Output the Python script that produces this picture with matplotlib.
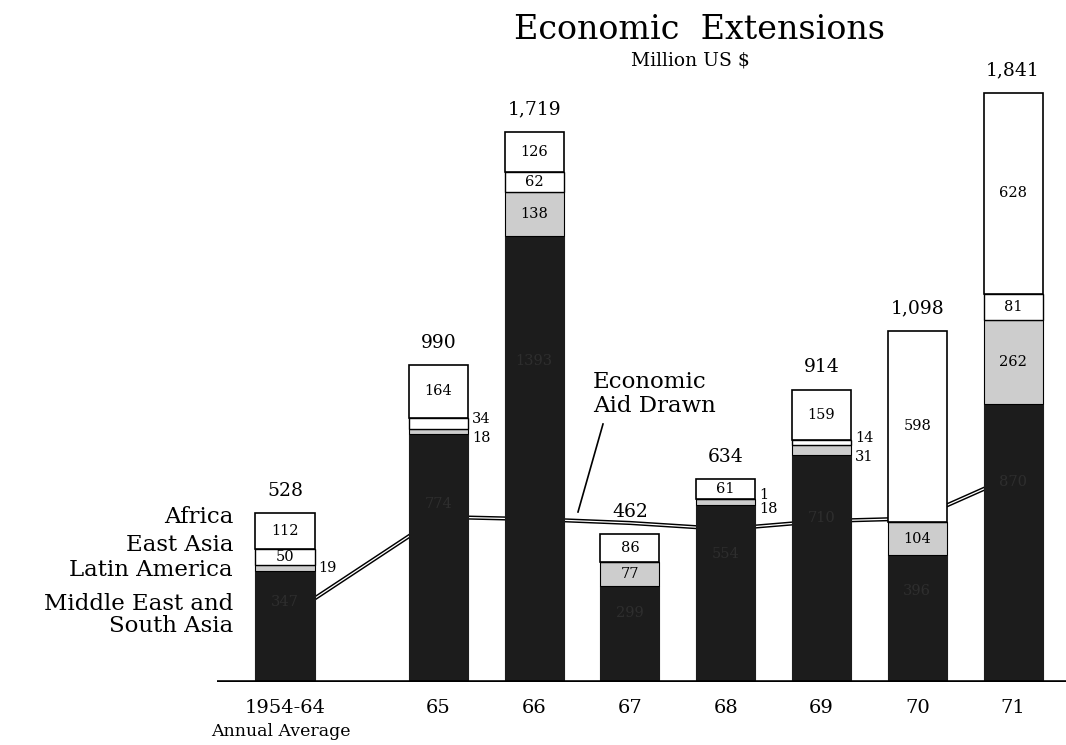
import matplotlib
matplotlib.use("Agg")
import matplotlib.pyplot as plt
import numpy as np

plt.rcParams['font.family'] = ['DejaVu Serif']

# ---- data ----
years = ["1954-64", "65", "66", "67", "68", "69", "70", "71"]
totals = [528, 990, 1719, 462, 634, 914, 1098, 1841]
mesa = [347, 774, 1393, 299, 554, 710, 396, 870]      # Middle East and South Asia
latin = [19, 18, 138, 77, 18, 31, 104, 262]           # Latin America
east_asia = [50, 34, 62, 0, 1, 14, 0, 81]             # East Asia
africa = [112, 164, 126, 86, 61, 159, 598, 628]       # Africa
aid_drawn = [200, 516, 509, 497, 478, 503, 511, 644]  # Economic Aid Drawn
region_names = ["Africa", "East Asia", "Latin America", "Middle East and\nSouth Asia"]

# ---- layout ----
W, H = 1066, 745
fig = plt.figure(figsize=(W / 100, H / 100), dpi=100)
base_px = 682
ax = fig.add_axes([217 / W, (H - base_px) / H, (W - 217) / W, 620 / H])
px_per_unit = 0.32
ax.set_ylim(0, 620 / px_per_unit)
spacing = 95.8
ax.set_xlim((217 - 285) / spacing, (W - 285) / spacing)
x = np.array([0, 1.6, 2.6, 3.6, 4.6, 5.6, 6.6, 7.6])
bw = 0.616

dark = '#1c1c1c'
gray = '#cdcdcd'

# Aid drawn line (drawn beneath the bars, double-line look)
ax.plot(x, aid_drawn, color='black', lw=3.0, zorder=0.4, solid_joinstyle='round')
ax.plot(x, aid_drawn, color='white', lw=0.9, zorder=0.5, solid_joinstyle='round')

mesa_a = np.array(mesa)
lat_a = np.array(latin)
ea_a = np.array(east_asia)
af_a = np.array(africa)

ax.bar(x, mesa_a, bw, color=dark, edgecolor=dark, lw=0.8, zorder=1)
ax.bar(x, lat_a, bw, bottom=mesa_a, color=gray, edgecolor='black', lw=0.8, zorder=2)
ax.bar(x, ea_a, bw, bottom=mesa_a + lat_a, color='white', edgecolor='black', lw=1.0, zorder=2)
ax.bar(x, af_a, bw, bottom=mesa_a + lat_a + ea_a, color='white', edgecolor='black', lw=1.2, zorder=2)

# baseline
ax.axhline(0, color='black', lw=2.6, zorder=3)

# total labels
for xi, t in zip(x, totals):
    ax.annotate(f"{t:,}", (xi, t), xytext=(0, 16), textcoords='offset points',
                ha='center', va='center', fontsize=13.5, zorder=4)

# segment labels
thr = 40
for i, xi in enumerate(x):
    b_lat = mesa[i]
    b_ea = mesa[i] + latin[i]
    b_af = b_ea + east_asia[i]
    # faint MESA label in dark segment
    ax.text(xi, mesa[i] * 0.72, f"{mesa[i]}", ha='center', va='center',
            fontsize=10.5, color='#2e2e2e', zorder=4)
    segs = [(latin[i], b_lat), (east_asia[i], b_ea), (africa[i], b_af)]
    outside = [(v, b) for v, b in segs if 0 < v < thr]
    for v, b in segs:
        if v >= thr:
            ax.text(xi, b + v / 2, str(v), ha='center', va='center', fontsize=10.5, zorder=4)
    if len(outside) == 1:
        v, b = outside[0]
        ax.annotate(str(v), (xi + bw / 2, b + v / 2), xytext=(3, 0), textcoords='offset points',
                    ha='left', va='center', fontsize=10.5, zorder=4)
    elif len(outside) == 2:
        offs = [-5, 3]
        for (v, b), o in zip(outside, offs):
            ax.annotate(str(v), (xi + bw / 2, b + v / 2), xytext=(3, o), textcoords='offset points',
                        ha='left', va='center', fontsize=10.5, zorder=4)

# x tick labels
ax.set_xticks(x)
ax.set_xticklabels(years, fontsize=14)
ax.tick_params(axis='x', length=0, pad=12)
ax.set_yticks([])
for s in ax.spines.values():
    s.set_visible(False)
fig.text(281 / W, 1 - 732 / H, "Annual Average", ha='center', va='center', fontsize=12.5)

# legend-style region labels
leg_y = [517, 545, 570, 615]
for name, yy in zip(region_names, leg_y):
    fig.text(233 / W, 1 - yy / H, name, ha='right', va='center', fontsize=16.5,
             linespacing=1.0)

# annotation for aid line
ax.text((593 - 285) / spacing, (base_px - 394) / px_per_unit,
        "Economic\nAid Drawn", ha='left', va='center', fontsize=16.5, linespacing=1.15)
ax.plot([(603 - 285) / spacing, (578 - 285) / spacing],
        [(base_px - 424) / px_per_unit, (base_px - 512) / px_per_unit],
        color='black', lw=1.2, zorder=4)

# titles
fig.text(700 / W, 1 - 30 / H, "Economic  Extensions", ha='center', va='center', fontsize=24)
fig.text(690 / W, 1 - 60 / H, "Million US $", ha='center', va='center', fontsize=13.5)

fig.savefig("out.png", dpi=100)
